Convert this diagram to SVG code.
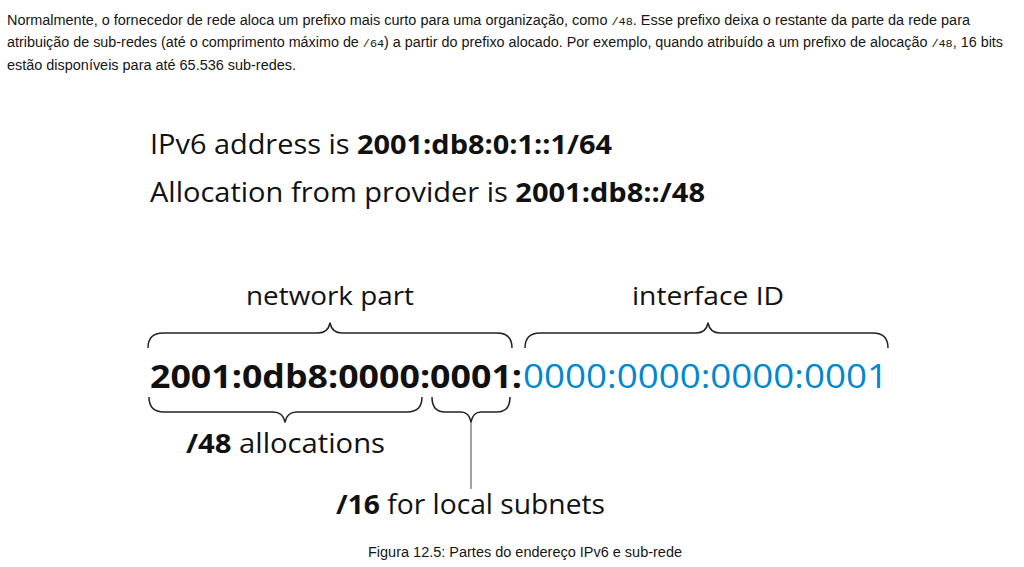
<svg xmlns="http://www.w3.org/2000/svg" width="1024" height="567" viewBox="0 0 1024 567">
<style>
.para{font-family:"Liberation Sans",Arial,sans-serif;font-size:14px;fill:#151515}
.mono{font-family:"Liberation Mono","DejaVu Sans Mono",monospace;font-size:11.5px}
.dg{font-family:"Open Sans","Liberation Sans",sans-serif;fill:#111}
.b{font-weight:700}
.brace{fill:none;stroke:#222;stroke-width:1.5;stroke-linejoin:round}
.cap{font-family:"Liberation Sans",Arial,sans-serif;font-size:14px;fill:#151515}
</style>
<rect width="1024" height="567" fill="#fff"/>
<g id="paragraph">
<text class="para" x="7" y="25" textLength="963" lengthAdjust="spacingAndGlyphs">Normalmente, o fornecedor de rede aloca um prefixo mais curto para uma organização, como <tspan class="mono">/48</tspan>. Esse prefixo deixa o restante da parte da rede para</text>
<text class="para" x="7" y="47" textLength="996" lengthAdjust="spacingAndGlyphs">atribuição de sub-redes (até o comprimento máximo de <tspan class="mono">/64</tspan>) a partir do prefixo alocado. Por exemplo, quando atribuído a um prefixo de alocação <tspan class="mono">/48</tspan>, 16 bits</text>
<text class="para" x="7" y="70" textLength="289" lengthAdjust="spacingAndGlyphs">estão disponíveis para até 65.536 sub-redes.</text>
</g>
<g id="header">
<text class="dg" x="150" y="154" font-size="27.5" textLength="462" lengthAdjust="spacingAndGlyphs">IPv6 address is <tspan class="b">2001:db8:0:1::1/64</tspan></text>
<text class="dg" x="150" y="202" font-size="27.5" textLength="555" lengthAdjust="spacingAndGlyphs">Allocation from provider is <tspan class="b">2001:db8::/48</tspan></text>
</g>
<g id="network-part">
<text class="dg" x="330" y="305" font-size="26" text-anchor="middle" textLength="168" lengthAdjust="spacingAndGlyphs">network part</text>
</g>
<g id="interface-id">
<text class="dg" x="708" y="305" font-size="26" text-anchor="middle" textLength="152" lengthAdjust="spacingAndGlyphs">interface ID</text>
</g>
<g id="address">
<text class="dg b" x="150" y="388" font-size="32" textLength="372" lengthAdjust="spacingAndGlyphs">2001:0db8:0000:0001:</text>
<text class="dg" x="523" y="388" font-size="32" style="fill:#0088CE" textLength="365" lengthAdjust="spacingAndGlyphs">0000:0000:0000:0001</text>
</g>
<g id="allocations">
<text class="dg" x="186" y="453" font-size="27" textLength="199" lengthAdjust="spacingAndGlyphs"><tspan class="b">/48</tspan> allocations</text>
</g>
<g id="local-subnets">
<text class="dg" x="336" y="514" font-size="27" textLength="269" lengthAdjust="spacingAndGlyphs"><tspan class="b">/16</tspan> for local subnets</text>
</g>
<g id="connectors">
<path class="brace" d="M148,348 Q148,333 163,333 L318,333 Q328,333 330,323 Q332,333 342,333 L497,333 Q512,333 512,348"/>
<path class="brace" d="M525,348 Q525,333 540,333 L696,333 Q706,333 708,323 Q710,333 720,333 L873,333 Q888,333 888,348"/>
<path class="brace" d="M149,397 Q149,412 164,412 L273,412 Q283,412 285,422 Q287,412 297,412 L407,412 Q422,412 422,397"/>
<path class="brace" d="M432,397 Q432,412 445,412 L461,412 Q469,412 471,422 Q473,412 481,412 L497,412 Q510,412 510,397"/>
<line x1="471" y1="422" x2="471" y2="489" stroke="#666" stroke-width="1.2"/>
</g>
<g id="caption">
<text class="cap" x="368" y="557" textLength="314" lengthAdjust="spacingAndGlyphs">Figura 12.5: Partes do endereço IPv6 e sub-rede</text>
</g>
</svg>
